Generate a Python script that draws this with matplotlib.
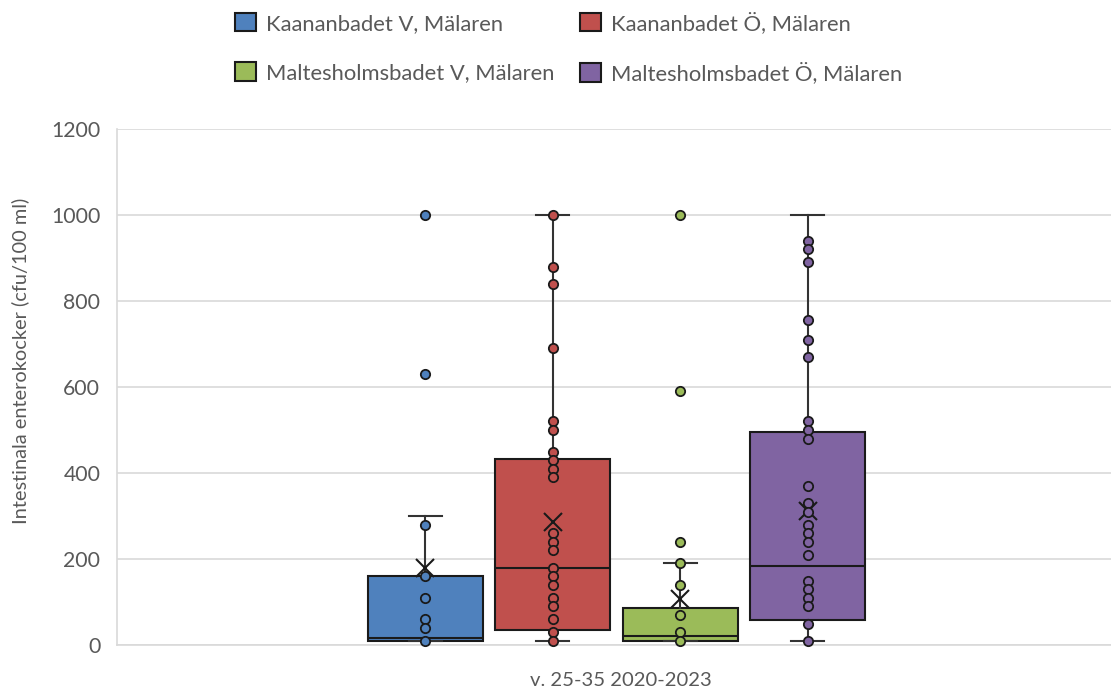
import matplotlib
matplotlib.use("Agg")
import matplotlib.pyplot as plt
from matplotlib.patches import Patch

# series shown in the chart
names = [
    "Kaananbadet V, Mälaren",
    "Kaananbadet Ö, Mälaren",
    "Maltesholmsbadet V, Mälaren",
    "Maltesholmsbadet Ö, Mälaren",
]
colors = ["#4f81bd", "#c0504d", "#9bbb59", "#8064a2"]

# individual samples (cfu/100 ml)
kaan_v = [1000, 630, 280, 160, 110, 60, 40, 10]
kaan_o = [1000, 880, 840, 690, 520, 500, 450, 430, 410, 390, 260, 240,
          220, 180, 160, 140, 110, 90, 60, 30, 10]
malt_v = [1000, 590, 240, 190, 140, 70, 30, 10]
malt_o = [940, 920, 890, 755, 710, 670, 520, 500, 480, 370, 330, 310,
          280, 260, 240, 210, 150, 130, 110, 90, 50, 10]

# box statistics as drawn by the original chart
q1 = [10, 36, 10, 57]
median = [17, 180, 20, 183]
q3 = [160, 433, 87, 496]
whis_lo = [10, 10, 10, 10]
whis_hi = [300, 1000, 190, 1000]
means = [178, 287, 108, 312]

xlabel = "v. 25-35 2020-2023"
ylabel = "Intestinala enterokocker (cfu/100 ml)"
yticks = [0, 200, 400, 600, 800, 1000, 1200]

plt.rcParams["font.family"] = ["Lato", "DejaVu Sans"]
grey = "#595959"
edge = "#1a1a1a"

W, H = 1111, 689
fig = plt.figure(figsize=(W / 100, H / 100), dpi=100)
ax = fig.add_axes([117 / W, (H - 645) / H, (1116 - 117) / W, (645 - 129) / H])

samples = [kaan_v, kaan_o, malt_v, malt_o]
positions = [0, 1, 2, 3]
stats = []
for i in range(4):
    stats.append(dict(q1=q1[i], med=median[i], q3=q3[i], whislo=whis_lo[i],
                      whishi=whis_hi[i], mean=means[i], fliers=[]))

bp = ax.bxp(stats, positions=positions, widths=0.9, patch_artist=True,
            showmeans=True, capwidths=0.26,
            boxprops=dict(edgecolor=edge, linewidth=1.5),
            medianprops=dict(color=edge, linewidth=1.5),
            whiskerprops=dict(color="#333333", linewidth=1.5),
            capprops=dict(color="#333333", linewidth=1.5),
            meanprops=dict(marker="x", markeredgecolor=edge, markersize=13,
                           markeredgewidth=1.5))
for patch, c in zip(bp["boxes"], colors):
    patch.set_facecolor(c)
for m in bp["means"]:
    m.set_zorder(4)

for x, vals, c in zip(positions, samples, colors):
    ax.scatter([x] * len(vals), vals, s=45, facecolor=c, edgecolor=edge,
               linewidth=1.3, zorder=5, clip_on=False)

ax.set_xlim(-2.416, 5.416)
ax.set_ylim(0, 1200)
ax.set_yticks(yticks)
ax.set_yticklabels([str(t) for t in yticks])
ax.set_xticks([])
ax.yaxis.grid(True, color="#d9d9d9", linewidth=1.2)
ax.set_axisbelow(True)
ax.tick_params(axis="y", length=0, pad=12, labelsize=15.3, labelcolor=grey)
for s in ["top", "right"]:
    ax.spines[s].set_visible(False)
ax.spines["left"].set_color("#d9d9d9")
ax.spines["bottom"].set_color("#d9d9d9")
ax.spines["left"].set_linewidth(1.2)
ax.spines["bottom"].set_linewidth(1.2)

fig.text(621 / W, 1 - 680 / H, xlabel, ha="center", va="center",
         fontsize=14.6, color=grey)
fig.text(20 / W, 1 - 361 / H, ylabel, ha="center", va="center",
         rotation=90, fontsize=14.4, color=grey)

# legend: column-wise order gives the two rows of the original
order = [0, 2, 1, 3]
handles = [Patch(facecolor=colors[i], edgecolor=edge, linewidth=1.5) for i in order]
labels = [names[i] for i in order]
fig.legend(handles, labels, ncols=2, loc="center",
           bbox_to_anchor=(568.5 / W, 1 - 48 / H),
           frameon=False, fontsize=15.8, labelcolor=grey, handlelength=0.96,
           handleheight=0.91, handletextpad=0.46, columnspacing=1.18,
           labelspacing=1.3)

fig.savefig("out.png", dpi=100)
